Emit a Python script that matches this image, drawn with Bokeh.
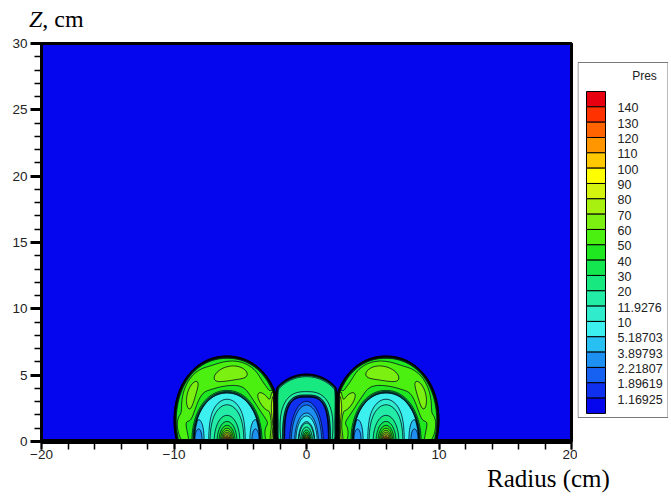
import numpy as np
from bokeh.plotting import figure
from bokeh.layouts import column, row
from bokeh.models import Range1d, SingleIntervalTicker, ColumnDataSource, Div
from bokeh.core.properties import value
from bokeh.embed import file_html
from bokeh.resources import INLINE

# ---------------- legend levels (Pres) ----------------
LEVELS = [1.16925, 1.89619, 2.21807, 3.89793, 5.18703, 10, 11.9276, 20, 30, 40,
          50, 60, 70, 80, 90, 100, 110, 120, 130, 140]
LEVEL_LABELS = ["1.16925", "1.89619", "2.21807", "3.89793", "5.18703", "10", "11.9276",
                "20", "30", "40", "50", "60", "70", "80", "90", "100", "110", "120",
                "130", "140"]
# band colours, lowest band (< 1.16925) first, highest (> 140) last
BAND_COLORS = ["#0606EE", "#1030F0", "#1660F2", "#1E90F2", "#28C0F2", "#3CF0F0",
               "#30ECCC", "#22ECA6", "#18E880", "#14E650", "#20E820", "#4CF010",
               "#7CF010", "#A8F010", "#D4F410", "#FFFF00", "#FFC800", "#FF9600",
               "#FF6400", "#FF3200", "#E60010"]
LEGEND_TITLE = "Pres"
X_TITLE = "Radius (cm)"
Y_TITLE = ("Z", ", cm")

# axes
X_RANGE = (-20, 20)
Y_RANGE = (0, 30)
X_MAJOR_STEP = 10
Y_MAJOR_STEP = 5

# ---------------- blast structures (cm / pressure) ----------------
AMBIENT = 1.0
SIDE_CX = 6.0                        # side domes at x = -6 and +6
SIDE_OUTER = (4.0, 4.85, 1.6, 2.1)   # half-width, half-height, centre height, exponent
SIDE_INNER = (2.65, 3.85, 2.1)       # contact surface: half-width, height, exponent
SIDE_SHELL_P = (40.0, 22.0)          # shell base pressure, crest increase
SIDE_CORE_P = (7.2, 5.0, 150.0)      # interior level, low-pressure pockets, hot spot peak
COLLISION_X = 2.3                    # plane where the domes meet
COLLISION_P = 22.0
MID_OUTER = (3.0, 2.1)               # radius, centre height
MID_INNER = (1.85, 3.55, 3.0)
MID_SHELL_P = (13.0, 17.0)
MID_CORE_P = (1.45, 150.0)

# ---------------- field on a grid ----------------
dx = 0.03
gx = np.arange(-11.0, 11.0 + dx / 2, dx)
gy = np.arange(0.0, 7.4 + dx / 2, dx)
X, Y = np.meshgrid(gx, gy)
AX = np.abs(X)
W = 0.22


def smooth(d, w=W):
    t = np.clip(d / w, 0, 1)
    return t * t * (3 - 2 * t)


def signed_dist(r):
    ry, rx = np.gradient(r, dx, dx)
    g = np.hypot(rx, ry)
    return (1 - r) / np.maximum(g, 1e-3)


def superell(u, v, a, b, p):
    return ((np.abs(u) / a) ** p + (np.abs(v) / b) ** p) ** (1.0 / p)


# side domes
u = AX - SIDE_CX
a, b, c, pw = SIDE_OUTER
d_so = signed_dist(superell(u, Y - c, a, b, pw))
ai, bi, pi_ = SIDE_INNER
d_si = signed_dist(superell(u, Y, ai, bi, pi_))
d_plane = AX - COLLISION_X
m_side = smooth(d_so) * smooth(d_plane)
o1 = np.maximum(-d_si, 0)
o2 = np.maximum(d_so, 0)
s = o1 / (o1 + o2 + 1e-9)
theta = np.arctan2(u, Y + 0.3)
shell = SIDE_SHELL_P[0] + SIDE_SHELL_P[1] * np.sin(np.pi * s) * (0.45 + 0.55 * np.cos(theta))
shell += 5 * np.sin(np.pi * s) * np.sin(9 * theta + 4 * s)
shell += COLLISION_P * np.exp(-((AX - 2.5) / 0.18) ** 2) * (1 - smooth(Y - 3.6, 0.5))
core = (SIDE_CORE_P[0]
        - SIDE_CORE_P[1] * np.exp(-((np.abs(u) - 2.05) / 0.7) ** 2) * np.exp(-(Y / 2.0) ** 2)
        + SIDE_CORE_P[2] * np.exp(-np.hypot(u, Y / 2.0) / 0.4))
m_si = smooth(d_si)
P_side = m_si * core + (1 - m_si) * shell

# middle dome
R, cm_ = MID_OUTER
d_mo = signed_dist(np.hypot(X, Y - cm_) / R)
ma, mb, mp = MID_INNER
d_mi = signed_dist(superell(X, Y, ma, mb, mp))
m_mid = smooth(d_mo) * smooth(-d_plane)
o1 = np.maximum(-d_mi, 0)
o2 = np.maximum(d_mo, 0)
sm_ = o1 / (o1 + o2 + 1e-9)
theta_m = np.arctan2(X, Y + 0.3)
shell_m = MID_SHELL_P[0] + MID_SHELL_P[1] * np.sin(np.pi * sm_) * (0.5 + 0.5 * np.cos(theta_m))
core_m = MID_CORE_P[0] + MID_CORE_P[1] * np.exp(-np.hypot(X, Y / 2.4) / 0.217)
m_mi = smooth(d_mi)
P_mid = m_mi * core_m + (1 - m_mi) * shell_m

P = AMBIENT + m_side * (P_side - AMBIENT) + m_mid * (P_mid - AMBIENT)

# ---------------- layout sizes (px) ----------------
TOTAL_W = 668
HEAD_H = 35
MAIN_W = 577
MAIN_H = 431
FOOT_H = 28
LEG_W = TOTAL_W - MAIN_W
BORDER_TOP, BORDER_BOTTOM = 8, 25

SANS = "Liberation Sans"
SERIF = "Liberation Serif"

# header: vertical-axis title
head = Div(text=('<div style="padding:7px 0 0 29px; font-family:\'Liberation Serif\'; '
                 'font-size:24px; line-height:24px; color:black; white-space:nowrap;">'
                 f'<i>{Y_TITLE[0]}</i>{Y_TITLE[1]}</div>'),
           width=TOTAL_W, height=HEAD_H, margin=0)

# main plot
p = figure(x_range=Range1d(*X_RANGE), y_range=Range1d(*Y_RANGE),
           width=MAIN_W, height=MAIN_H,
           output_backend="svg", toolbar_location=None,
           min_border_left=41, min_border_top=BORDER_TOP, min_border_bottom=BORDER_BOTTOM,
           min_border_right=6, background_fill_color=BAND_COLORS[0])
p.outline_line_color = "black"
p.outline_line_width = 3
p.grid.visible = False

levels_full = [0.0] + LEVELS + [1000.0]
p.contour(gx, gy, P, levels_full, fill_color=BAND_COLORS, line_color="black",
          line_width=0.75)

p.xaxis.ticker = SingleIntervalTicker(interval=X_MAJOR_STEP, num_minor_ticks=5)
p.yaxis.ticker = SingleIntervalTicker(interval=Y_MAJOR_STEP, num_minor_ticks=5)
for ax in (p.xaxis[0], p.yaxis[0]):
    ax.axis_line_color = "black"
    ax.major_tick_line_color = "black"
    ax.minor_tick_line_color = "black"
    ax.major_tick_in = 0
    ax.minor_tick_in = 0
    ax.major_label_text_font = SANS
    ax.major_label_text_font_size = "13.5px"
    ax.major_label_text_color = "#222222"
p.yaxis.axis_line_width = 3
p.yaxis.major_tick_out = 11
p.yaxis.major_tick_line_width = 3
p.yaxis.minor_tick_out = 7
p.yaxis.minor_tick_line_width = 1.5
p.yaxis.major_label_standoff = 3
p.xaxis.axis_line_width = 5
p.xaxis.major_tick_out = 8
p.xaxis.major_tick_line_width = 2
p.xaxis.minor_tick_out = 8
p.xaxis.minor_tick_line_width = 1.5
p.xaxis.major_label_standoff = 0

# legend panel: same borders as the main plot, coordinates = page pixels (y downward)
frame_top = HEAD_H + BORDER_TOP
frame_bottom = HEAD_H + MAIN_H - BORDER_BOTTOM
leg = figure(width=LEG_W, height=MAIN_H, x_range=Range1d(MAIN_W, TOTAL_W),
             y_range=Range1d(frame_bottom, frame_top), x_axis_type=None, y_axis_type=None,
             toolbar_location=None, output_backend="svg",
             min_border_left=0, min_border_right=0, min_border_top=BORDER_TOP,
             min_border_bottom=BORDER_BOTTOM, outline_line_color=None,
             background_fill_color="white")
leg.grid.visible = False
leg.quad(left=[577.5], right=[TOTAL_W - 0.5], top=[62], bottom=[417],
         fill_color="white", line_color="#7a7a7a", line_width=1)
n_bands = len(BAND_COLORS)
sw_top, sw_h = 91.0, 15.33
tops = [sw_top + k * sw_h for k in range(n_bands)]
leg.quad(left=586, right=605, top=tops, bottom=[t + sw_h for t in tops],
         fill_color=list(reversed(BAND_COLORS)), line_color="black", line_width=1)
lab_src = ColumnDataSource(dict(
    y=[sw_top + (k + 1) * sw_h + 1 for k in range(len(LEVEL_LABELS))],
    text=list(reversed(LEVEL_LABELS))))
leg.text(x=617, y="y", text="text", source=lab_src, text_font=value(SANS),
         text_font_size="12.5px", text_baseline="middle", text_color="#222222")
leg.text(x=[644], y=[75], text=[LEGEND_TITLE], text_font=value(SANS), text_font_size="12px",
         text_align="center", text_baseline="middle", text_color="#222222")

# footer: horizontal-axis title
foot = Div(text=('<div style="padding:0 0 0 487px; font-family:\'Liberation Serif\'; '
                 'font-size:25px; line-height:25px; color:black; white-space:nowrap;">'
                 f'{X_TITLE}</div>'),
           width=TOTAL_W, height=FOOT_H, margin=0)

layout = column(head, row(p, leg), foot)
open("out.html", "w").write(file_html(layout, INLINE))
